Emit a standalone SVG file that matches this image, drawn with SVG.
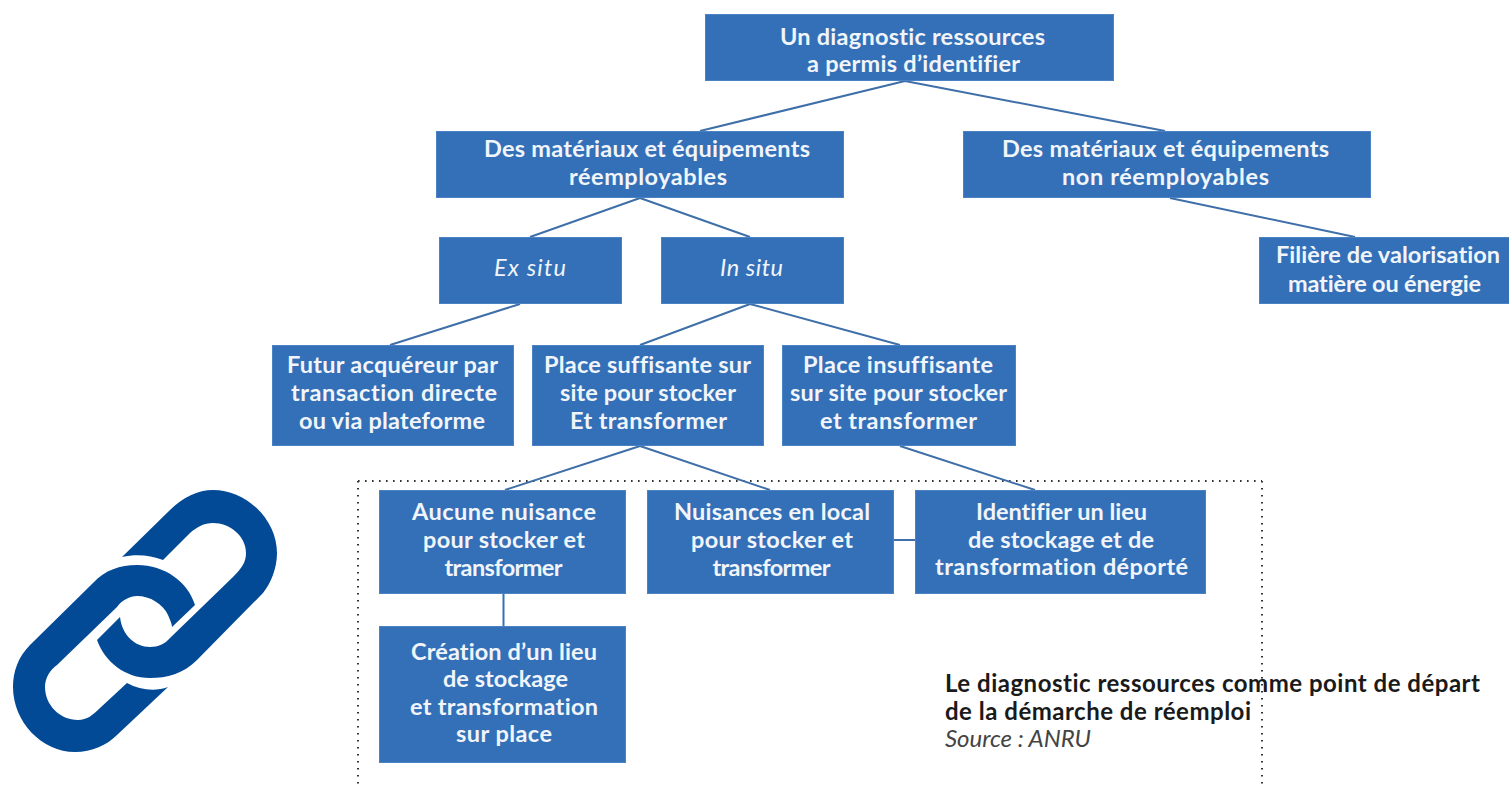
<svg xmlns="http://www.w3.org/2000/svg" width="1509" height="789" viewBox="0 0 1509 789">
<style>
.box{fill:#3370b8;stroke:#4a82c4;stroke-width:1}
.t{font-family:"Lato","Liberation Sans",sans-serif;font-size:23.500px;font-weight:700;fill:#f1f5fa;text-anchor:middle;font-variant-ligatures:none}
.i{font-style:italic;font-weight:400}
.c{stroke:#3f6fa8;stroke-width:2;fill:none}
.d{stroke:#333;stroke-width:2;stroke-dasharray:1.6 5.400;fill:none}
.cap{font-family:"Lato","Liberation Sans",sans-serif;font-size:24px;fill:#1a1a1a;font-variant-ligatures:none}
</style>
<rect width="1509" height="789" fill="#fff"/>
<g id="frame"><path class="d" d="M358 481H1262M358 481V789M1262 481V789"/></g>
<g id="connectors">
<path class="c" d="M905 81L700 131M905 81L1165 131M640 198L530 237M640 198L750 237M1170 198L1355 237M520 304L390 345M750 304L640 345M750 304L900 345M640 446L505 490M640 446L770 490M900 446L1035 490M893 540H915"/>
<path class="c" d="M503.500 593V626" style="stroke:#3370b8"/>
</g>
<g id="n1"><rect class="box" x="705.500" y="14.500" width="408" height="66"/><text class="t" x="912.500" y="45" textLength="265">Un diagnostic ressources</text><text class="t" x="913.500" y="72" textLength="213">a permis d’identifier</text></g>
<g id="n2"><rect class="box" x="436.500" y="131.500" width="407" height="66"/><text class="t" x="647" y="157" textLength="326">Des matériaux et équipements</text><text class="t" x="648" y="185" textLength="158">réemployables</text></g>
<g id="n3"><rect class="box" x="963.500" y="131.500" width="407" height="66"/><text class="t" x="1165.500" y="157" textLength="327">Des matériaux et équipements</text><text class="t" x="1165.500" y="185" textLength="207">non réemployables</text></g>
<g id="n4"><rect class="box" x="439.500" y="237.500" width="182" height="66"/><text class="t i" x="530" y="276" textLength="72">Ex situ</text></g>
<g id="n5"><rect class="box" x="661.500" y="237.500" width="182" height="66"/><text class="t i" x="751.500" y="276" textLength="63">In situ</text></g>
<g id="n6"><rect class="box" x="1259.500" y="237.500" width="250" height="66"/><text class="t" x="1388" y="263" textLength="224">Filière de valorisation</text><text class="t" x="1384.500" y="292" textLength="193">matière ou énergie</text></g>
<g id="n7"><rect class="box" x="272.500" y="345.500" width="241" height="100"/><text class="t" x="392.500" y="373" textLength="211">Futur acquéreur par</text><text class="t" x="394" y="401" textLength="206">transaction directe</text><text class="t" x="392" y="429" textLength="186">ou via plateforme</text></g>
<g id="n8"><rect class="box" x="532.500" y="345.500" width="231" height="100"/><text class="t" x="647.500" y="373" textLength="207">Place suffisante sur</text><text class="t" x="648" y="401" textLength="176">site pour stocker</text><text class="t" x="648.500" y="429" textLength="157">Et transformer</text></g>
<g id="n9"><rect class="box" x="782.500" y="345.500" width="233" height="100"/><text class="t" x="898" y="373" textLength="190">Place insuffisante</text><text class="t" x="898.500" y="401" textLength="217">sur site pour stocker</text><text class="t" x="898.500" y="429" textLength="157">et transformer</text></g>
<g id="n10"><rect class="box" x="379.500" y="490.500" width="246" height="103"/><text class="t" x="504" y="520" textLength="184">Aucune nuisance</text><text class="t" x="504" y="548" textLength="162">pour stocker et</text><text class="t" x="503.500" y="576" textLength="118">transformer</text></g>
<g id="n11"><rect class="box" x="647.500" y="490.500" width="246" height="103"/><text class="t" x="772" y="520" textLength="196">Nuisances en local</text><text class="t" x="772" y="548" textLength="162">pour stocker et</text><text class="t" x="771.500" y="576" textLength="118">transformer</text></g>
<g id="n12"><rect class="box" x="915.500" y="490.500" width="290" height="103"/><text class="t" x="1061.500" y="520" textLength="171">Identifier un lieu</text><text class="t" x="1061" y="548" textLength="186">de stockage et de</text><text class="t" x="1061.500" y="575" textLength="253">transformation déporté</text></g>
<g id="n13"><rect class="box" x="379.500" y="626.500" width="246" height="136"/><text class="t" x="504" y="660" textLength="186">Création d’un lieu</text><text class="t" x="505.500" y="687" textLength="125">de stockage</text><text class="t" x="504" y="715" textLength="188">et transformation</text><text class="t" x="504" y="742" textLength="96">sur place</text></g>
<g id="caption"><text class="cap" x="945" y="692" textLength="535" style="font-weight:700">Le diagnostic ressources comme point de départ</text><text class="cap" x="945" y="720" textLength="306" style="font-weight:700">de la démarche de réemploi</text><text class="cap" x="945" y="747" textLength="146" style="font-style:italic;fill:#444">Source : ANRU</text></g>
<g id="link" fill="#034a96">
<path d="M122 557L170 510C183 497 198 490 213 490C247 490 277 520 277 553C277 568 271 583 263 593L197 660C183 674 167 678 150 678C125 678 105 662 97 640L120 617C122 635 135 647 150 647C158 647 165 644 170 638L233 577C242 568 246 562 246 553C246 536 230 523 213 523C204 523 197 527 190 533L163 560C150 555 136 554 122 557Z"/>
<path d="M195 605C188 582 165 565 137 565C120 565 105 570 93 583L30 645C18 657 13 672 13 687C13 722 42 752 75 752C92 752 107 745 117 735L168 687C155 692 140 690 127 683L100 708C93 715 87 720 78 720C60 720 45 705 45 687C45 678 50 670 57 665L117 607C122 600 130 596 137 596C150 596 163 604 168 615C170 620 172 624 172 627Z"/>
</g>
</svg>
